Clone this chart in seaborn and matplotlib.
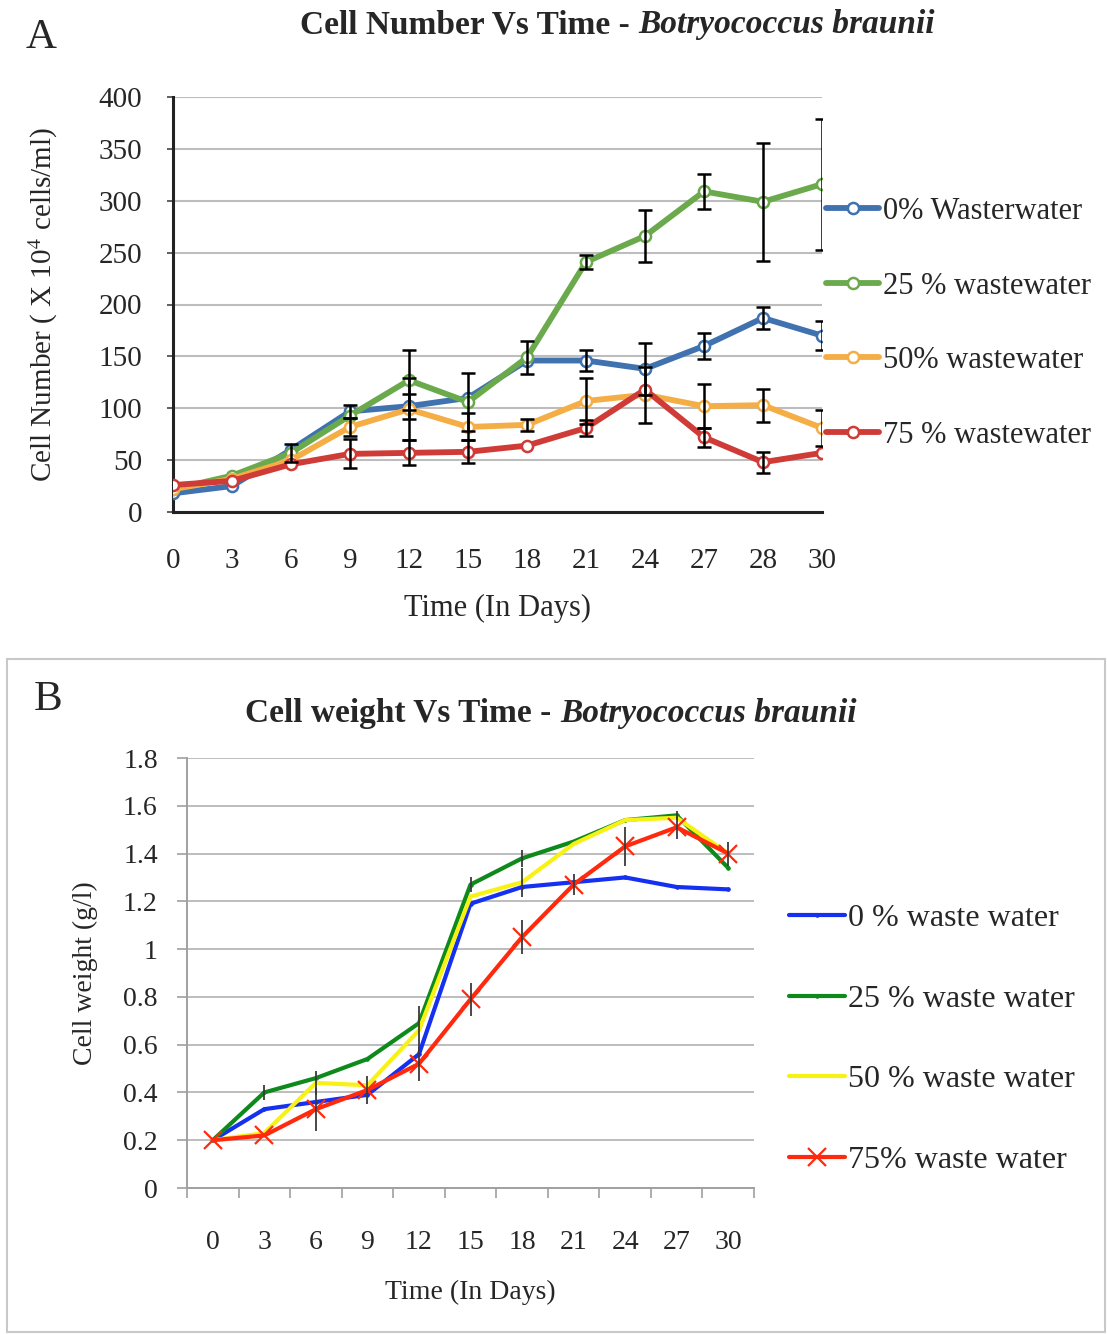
import numpy as np
import pandas as pd
import matplotlib
matplotlib.use("Agg")
import matplotlib.pyplot as plt
from matplotlib.patches import Rectangle
import seaborn as sns

# ---- Panel A data: cell number (x 10^4 cells/ml) ----
days_a = ["0", "3", "6", "9", "12", "15", "18", "21", "24", "27", "28", "30"]
labels_a = ["0% Wasterwater", "25 % wastewater", "50% wastewater", "75 % wastewater"]
colors_a = ["#3F72AF", "#6BAA4C", "#F4AE45", "#CF3B36"]

num_0 = [18, 25, 60, 97, 102, 110, 146, 146, 138, 160, 187, 170]
num_25 = [22, 35, 57, 93, 127, 106, 149, 241, 266, 309, 299, 316]
num_50 = [22, 32, 50, 82, 99, 82, 84, 107, 113, 102, 103, 81]
num_75 = [26, 30, 46, 56, 57, 58, 64, 81, 118, 72, 48, 57]

err_0 = [0, 0, 0, 6, 12, 0, 0, 10, 25, 13, 11, 14]
err_25 = [0, 0, 9, 0, 29, 28, 16, 7, 25, 17, 57, 63]
err_50 = [0, 0, 0, 9, 30, 13, 6, 22, 27, 21, 16, 17]
err_75 = [0, 0, 0, 14, 12, 11, 0, 8, 0, 9, 10, 0]

# ---- Panel B data: cell weight (g/l) ----
days_b = ["0", "3", "6", "9", "12", "15", "18", "21", "24", "27", "30"]
labels_b = ["0 % waste water", "25 % waste water", "50 % waste water", "75% waste water"]
colors_b = ["#1530F0", "#0E8A1C", "#F7F214", "#FF2A0E"]

wt_0 = [0.20, 0.33, 0.36, 0.39, 0.56, 1.19, 1.26, 1.28, 1.30, 1.26, 1.25]
wt_25 = [0.20, 0.40, 0.46, 0.54, 0.69, 1.27, 1.38, 1.45, 1.54, 1.56, 1.34]
wt_50 = [0.20, 0.23, 0.44, 0.43, 0.66, 1.22, 1.28, 1.44, 1.54, 1.55, 1.40]
wt_75 = [0.20, 0.22, 0.33, 0.41, 0.52, 0.79, 1.05, 1.27, 1.43, 1.51, 1.40]

wt_err_25 = [0, 0.03, 0, 0, 0, 0.03, 0.035, 0, 0, 0.02, 0]
wt_err_50 = [0, 0, 0.05, 0, 0.10, 0, 0.06, 0, 0, 0, 0]
wt_err_75 = [0, 0, 0.09, 0.06, 0.07, 0.07, 0.07, 0.045, 0.08, 0.05, 0.05]

sns.set_style("white")
plt.rcParams['font.family'] = ['Liberation Serif', 'DejaVu Serif']
plt.rcParams['mathtext.fontset'] = 'stix'

W, H = 1107, 1334
fig = plt.figure(figsize=(W / 100, H / 100), dpi=100)


def fig_box(x0, y0, x1, y1):
    # pixel box (top-left origin) -> figure fraction rect
    return [x0 / W, 1 - y1 / H, (x1 - x0) / W, (y1 - y0) / H]


def two_part_title(xc, yc, bold_txt, ital_txt, size):
    t1 = fig.text(0, 1 - yc / H, bold_txt, fontweight='bold', size=size, va='center', ha='left')
    t2 = fig.text(0, 1 - yc / H, ital_txt, fontweight='bold', fontstyle='italic', size=size,
                  va='center', ha='left')
    fig.canvas.draw()
    r = fig.canvas.get_renderer()
    w1 = t1.get_window_extent(r).width / W
    w2 = t2.get_window_extent(r).width / W
    x0 = xc / W - (w1 + w2) / 2
    t1.set_x(x0)
    t2.set_x(x0 + w1)


# ================= Panel A =================
ax1 = fig.add_axes(fig_box(173, 97, 822, 512))
idx_a = np.arange(len(days_a))
series_a = [(num_0, err_0), (num_25, err_25), (num_50, err_50), (num_75, err_75)]

for (vals, errs), lab, col in zip(series_a, labels_a, colors_a):
    df = pd.DataFrame({"x": idx_a, "y": vals})
    sns.lineplot(data=df, x="x", y="y", ax=ax1, color=col, lw=4.2, marker='o',
                 markersize=8, markerfacecolor='white', markeredgecolor=col,
                 markeredgewidth=1.8, label=lab, zorder=3)
    e = np.array(errs, dtype=float)
    m = e > 0
    ax1.errorbar(idx_a[m], np.array(vals)[m], yerr=e[m], fmt='none', ecolor='black',
                 elinewidth=1.8, capsize=5, capthick=1.8, zorder=4)

ax1.set_xlim(0, len(days_a) - 1)
ax1.set_ylim(0, 400)
ax1.set_yticks(range(0, 401, 50))
ax1.set_xticks(idx_a)
ax1.set_xticklabels(days_a)
ax1.yaxis.grid(True, color='#BDBDBD', lw=1.5)
ax1.set_axisbelow(True)
for s in ['top', 'right']:
    ax1.spines[s].set_visible(False)
for s in ['left', 'bottom']:
    ax1.spines[s].set_color('#222222')
    ax1.spines[s].set_linewidth(2.2)
ax1.tick_params(axis='y', length=4, width=1.2, color='#444444', pad=18, labelsize=21, left=True)
ax1.tick_params(axis='x', length=0, pad=26, labelsize=21)
ax1.set_xlabel("Time (In Days)", fontsize=22, labelpad=14)
ax1.set_ylabel("Cell Number ( X 10$^{4}$ cells/ml)", fontsize=21, labelpad=28)

h, l = ax1.get_legend_handles_labels()
ax1.get_legend().remove()
fig.legend(h, l, loc='upper left', bbox_to_anchor=(826 / W, 1 - 197 / H), frameon=False,
           fontsize=22, handlelength=1.75, handletextpad=0.1, labelspacing=1.49, borderpad=0,
           borderaxespad=0)

fig.text(26 / W, 1 - 38 / H, "A", fontsize=31, va='center', ha='left')
two_part_title(617, 25, "Cell Number Vs Time - ", "Botryococcus braunii", 24)

# ================= Panel B =================
fig.add_artist(Rectangle((7 / W, 2 / H), 1098 / W, 673 / H, transform=fig.transFigure,
                         fill=False, edgecolor='#C8C8C8', lw=1.5))
ax2 = fig.add_axes(fig_box(187, 758, 754, 1188))
idx_b = np.arange(len(days_b))
series_b = [(wt_0, None), (wt_25, wt_err_25), (wt_50, wt_err_50), (wt_75, wt_err_75)]
mk_b = [dict(marker='.', markersize=5), dict(marker='.', markersize=5),
        dict(marker=None), dict(marker='x', markersize=13, markeredgewidth=1.6)]

for (vals, errs), lab, col, mk in zip(series_b, labels_b, colors_b, mk_b):
    df = pd.DataFrame({"x": idx_b, "y": vals})
    sns.lineplot(data=df, x="x", y="y", ax=ax2, color=col, lw=3.0, label=lab, zorder=3,
                 markeredgecolor=col, **mk)
    if errs is not None:
        e = np.array(errs, dtype=float)
        m = e > 0
        ax2.errorbar(idx_b[m], np.array(vals)[m], yerr=e[m], fmt='none', ecolor='#3A3A3A',
                     elinewidth=1.3, capsize=0, zorder=4)

ax2.set_xlim(-0.5, len(days_b) - 0.5)
ax2.set_ylim(0, 1.8)
ax2.set_yticks(np.round(np.arange(0, 1.81, 0.2), 1))
ax2.set_yticklabels(["0", "0.2", "0.4", "0.6", "0.8", "1", "1.2", "1.4", "1.6", "1.8"])
ax2.set_xticks(idx_b)
ax2.set_xticklabels(days_b)
ax2.set_xticks(np.arange(-0.5, len(days_b)), minor=True)
ax2.yaxis.grid(True, color='#BDBDBD', lw=1.4)
ax2.set_axisbelow(True)
for s in ['top', 'right']:
    ax2.spines[s].set_visible(False)
for s in ['left', 'bottom']:
    ax2.spines[s].set_color('#A0A0A0')
    ax2.spines[s].set_linewidth(1.4)
ax2.tick_params(axis='y', length=7, width=1.2, color='#A0A0A0', pad=14, labelsize=20, left=True)
ax2.tick_params(axis='x', which='major', length=0, pad=30, labelsize=20)
ax2.tick_params(axis='x', which='minor', length=7, width=1.2, color='#A0A0A0', bottom=True)
ax2.set_xlabel("Time (In Days)", fontsize=20, labelpad=18)
ax2.set_ylabel("Cell weight (g/l)", fontsize=20, labelpad=18)

h, l = ax2.get_legend_handles_labels()
ax2.get_legend().remove()
fig.legend(h, l, loc='upper left', bbox_to_anchor=(789 / W, 1 - 904 / H), frameon=False,
           fontsize=23, handlelength=1.75, handletextpad=0.1, labelspacing=1.6, borderpad=0,
           borderaxespad=0)

fig.text(34 / W, 1 - 700 / H, "B", fontsize=31, va='center', ha='left')
two_part_title(551, 714, "Cell weight Vs Time - ", "Botryococcus braunii", 24)

fig.savefig("out.png", dpi=100)
